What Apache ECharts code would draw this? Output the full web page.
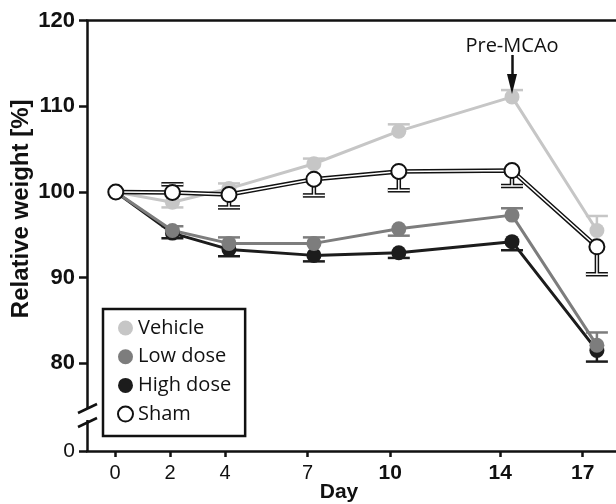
<!DOCTYPE html>
<html>
<head>
<meta charset="utf-8">
<script src="https://cdn.jsdelivr.net/npm/echarts@6/dist/echarts.min.js"></script>
<style>
  html, body { margin: 0; padding: 0; background: #fff; }
  #main { width: 616px; height: 504px; }
</style>
</head>
<body>
<div id="main"></div>
<script>
// day axis + tick labels
var days = [0, 2, 4, 7, 10, 14, 17];
var dayTicks = [0, 2, 4, 7, 10, 14, 17];
var yTicks = [69.76, 80, 90, 100, 110, 120];

// group means and the one-sided error bar ends
var vehicle = [100, 98.8, 100.4, 103.3, 107.1, 111.1, 95.5];
var vehicleBar = [null, 98.2, 101.0, 103.9, 107.9, 111.9, 97.2];
var lowDose = [100, 95.5, 94.0, 94.0, 95.7, 97.3, 82.1];
var lowBar = [null, 96.0, 94.7, 94.7, 94.9, 98.1, 83.6];
var highDose = [100, 95.2, 93.3, 92.6, 92.9, 94.2, 81.5];
var highBar = [null, 94.6, 92.5, 91.9, 92.3, 93.2, 80.2];
var sham = [100, 99.95, 99.7, 101.5, 102.4, 102.5, 93.6];
var shamBar = [null, 100.9, 98.2, 99.6, 100.2, 100.7, 90.4];

var axisFont = 'Liberation Sans, Arial, sans-serif';
var textFont = 'Open Sans, Noto Sans, sans-serif';

function pairs(vals) {
  return days.map(function (d, i) { return [d, vals[i]]; });
}

// error bars: stem + cap, drawn with custom series
function errorBars(vals, bars, color, outlined) {
  var data = [];
  for (var i = 0; i < days.length; i++) {
    if (bars[i] != null) data.push([days[i], vals[i], bars[i]]);
  }
  return {
    type: 'custom',
    xAxisIndex: 1,
    yAxisIndex: 0,
    silent: true,
    data: data,
    encode: { x: 0, y: [1, 2] },
    renderItem: function (params, api) {
      var p1 = api.coord([api.value(0), api.value(1)]);
      var p2 = api.coord([api.value(0), api.value(2)]);
      var half = 11;
      var shapes = [
        { x1: p1[0], y1: p1[1], x2: p2[0], y2: p2[1] },
        { x1: p2[0] - half, y1: p2[1], x2: p2[0] + half, y2: p2[1] }
      ];
      var children = [];
      if (outlined) {
        shapes.forEach(function (s) {
          children.push({ type: 'line', shape: s, style: { stroke: '#111', lineWidth: 4.5 } });
        });
        shapes.forEach(function (s) {
          children.push({ type: 'line', shape: s, style: { stroke: '#fff', lineWidth: 1.5 } });
        });
      } else {
        shapes.forEach(function (s) {
          children.push({ type: 'line', shape: s, style: { stroke: color, lineWidth: 2.5 } });
        });
      }
      return { type: 'group', children: children };
    }
  };
}

function lineSeries(name, vals, color, extra) {
  var s = {
    name: name,
    type: 'line',
    xAxisIndex: 1,
    yAxisIndex: 0,
    data: pairs(vals),
    symbol: 'circle',
    symbolSize: 15,
    showSymbol: true,
    itemStyle: { color: color },
    lineStyle: { color: color, width: 3 },
    emphasis: { disabled: true }
  };
  for (var k in extra) s[k] = extra[k];
  return s;
}

var chart = echarts.init(document.getElementById('main'));

var option = {
  animation: false,
  grid: { left: 87, right: 0, top: 20.7, bottom: 53, outerBoundsMode: 'none', containLabel: false },
  legend: {
    data: ['Vehicle', 'Low dose', 'High dose', 'Sham'],
    orient: 'vertical',
    left: 103,
    top: 309,
    icon: 'circle',
    itemWidth: 15,
    itemHeight: 15,
    itemGap: 8.7,
    padding: [9, 14, 12, 14],
    borderColor: '#111',
    borderWidth: 2.5,
    selectedMode: false,
    textStyle: { fontFamily: textFont, fontSize: 20, color: '#111', lineHeight: 20 }
  },
  xAxis: [
    {
      // visible Day axis with tick labels
      type: 'value',
      position: 'bottom',
      min: -1.018,
      max: 18.21,
      name: 'Day',
      nameLocation: 'middle',
      nameGap: 31,
      nameMoveOverlap: false,
      nameTextStyle: { fontFamily: axisFont, fontSize: 21, fontWeight: 'bold', color: '#111', padding: [0, 25, 0, 0] },
      axisLine: { show: true, onZero: false, lineStyle: { color: '#111', width: 2.5 } },
      axisTick: { show: true, customValues: dayTicks, length: 6, lineStyle: { color: '#111', width: 2.5 } },
      axisLabel: {
        customValues: dayTicks,
        margin: 12,
        formatter: function (v) { return v >= 10 ? '{b|' + v + '}' : '{n|' + v + '}'; },
        rich: {
          n: { fontFamily: axisFont, fontSize: 20, color: '#111' },
          b: { fontFamily: axisFont, fontSize: 21, fontWeight: 'bold', color: '#111' }
        }
      },
      splitLine: { show: false }
    },
    {
      // data axis (points sit on a slightly wider scale), line used as top frame
      type: 'value',
      position: 'top',
      min: -1.018,
      max: 17.675,
      axisLine: { show: true, onZero: false, lineStyle: { color: '#111', width: 2.5 } },
      axisTick: { show: false },
      axisLabel: { show: false },
      splitLine: { show: false }
    }
  ],
  yAxis: {
    type: 'value',
    min: 69.76,
    max: 120,
    name: 'Relative weight [%]',
    nameLocation: 'middle',
    nameGap: 54,
    nameMoveOverlap: false,
    nameTextStyle: { fontFamily: axisFont, fontSize: 24, fontWeight: 'bold', color: '#111', padding: [0, 0, 0, 54] },
    axisLine: { show: true, onZero: false, lineStyle: { color: '#111', width: 2.5 } },
    axisTick: { show: true, customValues: yTicks, length: 8, lineStyle: { color: '#111', width: 2.5 } },
    axisLabel: {
      customValues: yTicks,
      margin: 12,
      formatter: function (v) { return v < 75 ? '{n|0}' : '{b|' + Math.round(v) + '}'; },
      rich: {
        n: { fontFamily: axisFont, fontSize: 21, color: '#111' },
        b: { fontFamily: axisFont, fontSize: 22, fontWeight: 'bold', color: '#111' }
      }
    },
    splitLine: { show: false }
  },
  graphic: [
    // axis break
    { type: 'rect', shape: { x: 82, y: 409, width: 10, height: 11 }, style: { fill: '#fff' }, z: 100 },
    { type: 'line', shape: { x1: 78, y1: 413, x2: 97, y2: 404 }, style: { stroke: '#111', lineWidth: 2.5 }, z: 101 },
    { type: 'line', shape: { x1: 78, y1: 427, x2: 97, y2: 418 }, style: { stroke: '#111', lineWidth: 2.5 }, z: 101 }
  ],
  series: [
    errorBars(highDose, highBar, '#1c1c1c', false),
    lineSeries('High dose', highDose, '#1c1c1c', {}),
    errorBars(lowDose, lowBar, '#7d7d7d', false),
    lineSeries('Low dose', lowDose, '#7d7d7d', {}),
    errorBars(vehicle, vehicleBar, '#c6c6c6', false),
    lineSeries('Vehicle', vehicle, '#c6c6c6', {
      markLine: {
        silent: true,
        symbol: ['none', 'triangle'],
        symbolSize: [10, 20],
        lineStyle: { color: '#111', width: 2.5, type: 'solid' },
        label: {
          show: true,
          position: 'start',
          distance: -1,
          formatter: 'Pre-MCAo',
          fontFamily: textFont,
          fontSize: 20,
          color: '#111'
        },
        data: [[{ coord: [14, 116.0] }, { coord: [14, 112.6] }]]
      }
    }),
    errorBars(sham, shamBar, '#111', true),
    {
      name: 'Sham outline',
      type: 'line',
      xAxisIndex: 1,
      data: pairs(sham),
      showSymbol: false,
      silent: true,
      lineStyle: { color: '#111', width: 4.5 }
    },
    {
      name: 'Sham inner',
      type: 'line',
      xAxisIndex: 1,
      data: pairs(sham),
      showSymbol: false,
      silent: true,
      lineStyle: { color: '#fff', width: 1.5 }
    },
    lineSeries('Sham', sham, '#fff', {
      itemStyle: { color: '#fff', borderColor: '#111', borderWidth: 2 },
      lineStyle: { width: 0, opacity: 0 }
    })
  ]
};

chart.setOption(option);
</script>
</body>
</html>
